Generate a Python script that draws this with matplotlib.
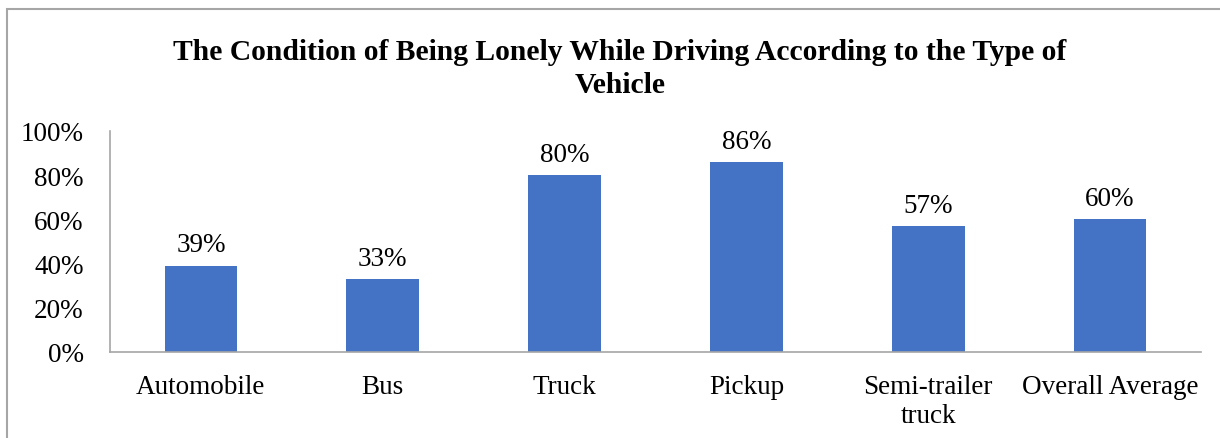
import matplotlib.pyplot as plt
from matplotlib.patches import Rectangle
from matplotlib.ticker import PercentFormatter

categories = ['Automobile', 'Bus', 'Truck', 'Pickup', 'Semi-trailer\ntruck', 'Overall Average']
values = [39, 33, 80, 86, 57, 60]
yticks = [0, 20, 40, 60, 80, 100]

plt.rcParams['font.family'] = ['Liberation Serif', 'DejaVu Serif']

fig = plt.figure(figsize=(12.2, 4.39), dpi=100)
ax = fig.add_axes([110 / 1220, 1 - 353 / 439, 1091 / 1220, 221 / 439])

x = range(len(categories))
bars = ax.bar(x, values, width=0.4, color='#4472C4')
for b, v in zip(bars, values):
    ax.annotate(f'{v}%', (b.get_x() + b.get_width() / 2, v), xytext=(0, 6),
                textcoords='offset points', ha='center', va='bottom', fontsize=19.5)

ax.set_xlim(-0.5, len(categories) - 0.5)
ax.set_ylim(0, 100)
ax.set_yticks(yticks)
ax.yaxis.set_major_formatter(PercentFormatter(decimals=0))
ax.set_xticks(list(x))
ax.set_xticklabels(categories, fontsize=19.5, linespacing=1.2)
ax.tick_params(axis='y', length=0, pad=19, labelsize=19.5)
ax.tick_params(axis='x', length=0, pad=16)

for s in ['top', 'right']:
    ax.spines[s].set_visible(False)
for s in ['left', 'bottom']:
    ax.spines[s].set_color('#a6a6a6')
    ax.spines[s].set_linewidth(1.2)

fig.text(0.508, 1 - 69 / 439, 'The Condition of Being Lonely While Driving According to the Type of\nVehicle',
         ha='center', va='center', fontsize=21.3, fontweight='bold', linespacing=1.3)

# outer chart frame
fig.patches.append(Rectangle((7 / 1220, -0.1), 1.2, 1 - 10 / 439 + 0.1, transform=fig.transFigure,
                             fill=False, edgecolor='#a6a6a6', linewidth=1.5))

fig.savefig('out.png', dpi=100)
